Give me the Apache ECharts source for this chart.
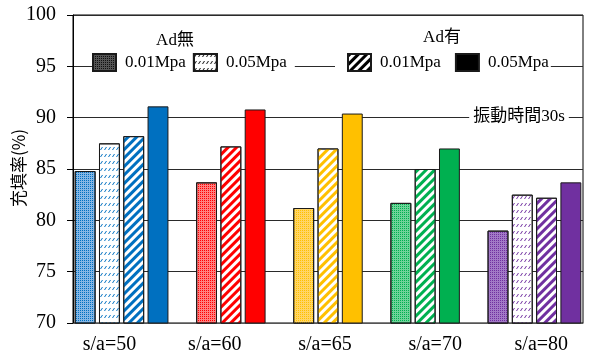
<!DOCTYPE html>
<html><head><meta charset="utf-8">
<script src="https://cdn.jsdelivr.net/npm/echarts@6/dist/echarts.min.js"></script>
<style>html,body{margin:0;padding:0;background:#fff}#c{width:590px;height:356px}</style>
</head><body><div id="c"></div>
<script>
// ---- data ----
const categories = ['s/a=50', 's/a=60', 's/a=65', 's/a=70', 's/a=80'];
const seriesNames = ['Ad無 0.01Mpa', 'Ad無 0.05Mpa', 'Ad有 0.01Mpa', 'Ad有 0.05Mpa'];
const adNo001  = [84.8, 83.7, 81.2, 81.7, 79.0];
const adNo005  = [87.5, null, null, null, 82.5];
const adYes001 = [88.2, 87.2, 87.0, 85.0, 82.2];
const adYes005 = [91.1, 90.8, 90.4, 87.0, 83.7];
const yMin = 70, yMax = 100, yStep = 5;
const yTitle = '充填率(%)';
const noteText = '振動時間30s';
const groupTitles = ['Ad無', 'Ad有'];

// ---- styles ----
const catColors = ['#0070C0', '#FF0000', '#FFC000', '#00B050', '#7030A0'];
const catTints  = ['#86B6E4', '#FF8080', '#FFD566', '#70D39A', '#A27AC6'];
const labelNudge = [0, -16, -3, 10, 19];
const serifFont = "'Liberation Serif','Noto Sans CJK JP',serif";

const seriesValues = [adNo001, adNo005, adYes001, adYes005];

function decalFor(si, color) {
  if (si === 0) return { symbol: 'rect', symbolSize: 1, dashArrayX: [1, 1], dashArrayY: [1, 1], color: color };
  if (si === 1) return { symbol: 'path://M0,3L2,0L3,0L1,3Z', symbolSize: 1, dashArrayX: [[3, 1]], dashArrayY: [3, 4], color: color };
  if (si === 2) return { symbol: 'rect', symbolSize: 1, dashArrayX: [[10, 0]], dashArrayY: [2.3, 2.5], rotation: -Math.PI / 4, color: color };
  return null;
}
function fillFor(si, ci) {
  if (si === 0) return catTints[ci];
  if (si === 3) return catColors[ci];
  return '#FFFFFF';
}

// build slot layout: bars of each group side by side, one empty slot between groups
const slots = [];
const labelSlot = [];
categories.forEach((c, ci) => {
  if (ci > 0) slots.push(null);
  const start = slots.length;
  let n = 0;
  seriesValues.forEach((vals, si) => { if (vals[ci] != null) { slots.push({ ci, si }); n++; } });
  labelSlot.push(start + Math.floor((n - 1) / 2));
});

const legendStyle = [
  { color: '#555555', decal: decalFor(0, '#111111') },
  { color: '#FFFFFF', decal: decalFor(1, '#000000') },
  { color: '#FFFFFF', decal: decalFor(2, '#000000') },
  { color: '#000000', decal: null }
];

const series = seriesNames.map((name, si) => ({
  name: name,
  type: 'bar',
  barGap: '-100%',
  barCategoryGap: '14%',
  itemStyle: Object.assign({ borderColor: '#1a1a1a', borderWidth: 1 }, legendStyle[si].decal ? { decal: legendStyle[si].decal } : {}, { color: legendStyle[si].color }),
  emphasis: { disabled: true },
  data: slots.map(s => {
    if (!s || s.si !== si) return '-';
    const item = { value: seriesValues[si][s.ci], itemStyle: { color: fillFor(si, s.ci), borderColor: '#1a1a1a', borderWidth: 1 } };
    const d = decalFor(si, catColors[s.ci]);
    if (d) item.itemStyle.decal = d;
    return item;
  })
}));

const rich = {};
labelNudge.forEach((d, k) => {
  rich['t' + k] = { fontSize: 20, fontFamily: serifFont, color: '#000', padding: d > 0 ? [0, 0, 0, 2 * d] : [0, -2 * d, 0, 0] };
});

const legendCommon = {
  orient: 'horizontal', icon: 'rect', itemWidth: 23, itemHeight: 17,
  backgroundColor: '#FFFFFF', selectedMode: false,
  formatter: n => n.split(' ')[1],
  textStyle: { fontSize: 17, fontFamily: serifFont, color: '#000', padding: [0, 0, 0, 4] }
};

const chart = echarts.init(document.getElementById('c'), null, { renderer: 'canvas' });
chart.setOption({
  animation: false,
  backgroundColor: '#FFFFFF',
  grid: { left: 73, right: 7, top: 15, bottom: 33, show: true, borderColor: '#000', borderWidth: 1, outerBoundsMode: 'none' },
  legend: [
    Object.assign({}, legendCommon, { data: [seriesNames[0], seriesNames[1]], left: 92, top: 50, itemGap: 7, padding: [3, 8, 3, 0] }),
    Object.assign({}, legendCommon, { data: [seriesNames[2], seriesNames[3]], left: 335, top: 50, itemGap: 14, padding: [3, 2, 3, 12] })
  ],
  xAxis: {
    type: 'category',
    data: slots.map((s, i) => String(i)),
    axisLine: { show: true, lineStyle: { color: '#555', width: 1 } },
    axisTick: { show: false },
    splitLine: { show: false },
    axisLabel: {
      interval: (i) => labelSlot.indexOf(i) >= 0,
      margin: 12,
      formatter: (v, i) => { const k = labelSlot.indexOf(i); return k < 0 ? '' : '{t' + k + '|' + categories[k] + '}'; },
      rich: rich
    }
  },
  yAxis: {
    type: 'value', min: yMin, max: yMax, interval: yStep,
    axisLine: { show: true, lineStyle: { color: '#000', width: 1 } },
    axisTick: { show: true, length: 6, inside: false, lineStyle: { color: '#000' } },
    axisLabel: { fontSize: 20, fontFamily: serifFont, color: '#000', margin: 17 },
    splitLine: { show: true, lineStyle: { color: '#2a2a2a', width: 1 } }
  },
  graphic: [
    { type: 'text', x: 19, y: 168, rotation: Math.PI / 2, z: 100, style: { text: yTitle, font: "17px 'Noto Sans CJK JP',sans-serif", fill: '#000', align: 'center', verticalAlign: 'middle', textAlign: 'center', textVerticalAlign: 'middle' } },
    { type: 'text', x: 175, y: 41, z: 100, style: { text: groupTitles[0], font: "17px 'Liberation Serif','Noto Sans CJK JP',serif", fill: '#000', align: 'center', verticalAlign: 'middle', textAlign: 'center', textVerticalAlign: 'middle' } },
    { type: 'text', x: 442, y: 38, z: 100, style: { text: groupTitles[1], font: "17px 'Liberation Serif','Noto Sans CJK JP',serif", fill: '#000', align: 'center', verticalAlign: 'middle', textAlign: 'center', textVerticalAlign: 'middle' } },
    { type: 'text', x: 519, y: 117, z: 100, style: { text: noteText, font: "17px 'Liberation Serif','Noto Sans CJK JP',serif", fill: '#000', align: 'center', verticalAlign: 'middle', textAlign: 'center', textVerticalAlign: 'middle', backgroundColor: '#FFFFFF', padding: [2, 4] } }
  ],
  series: series
});
</script>
</body></html>
